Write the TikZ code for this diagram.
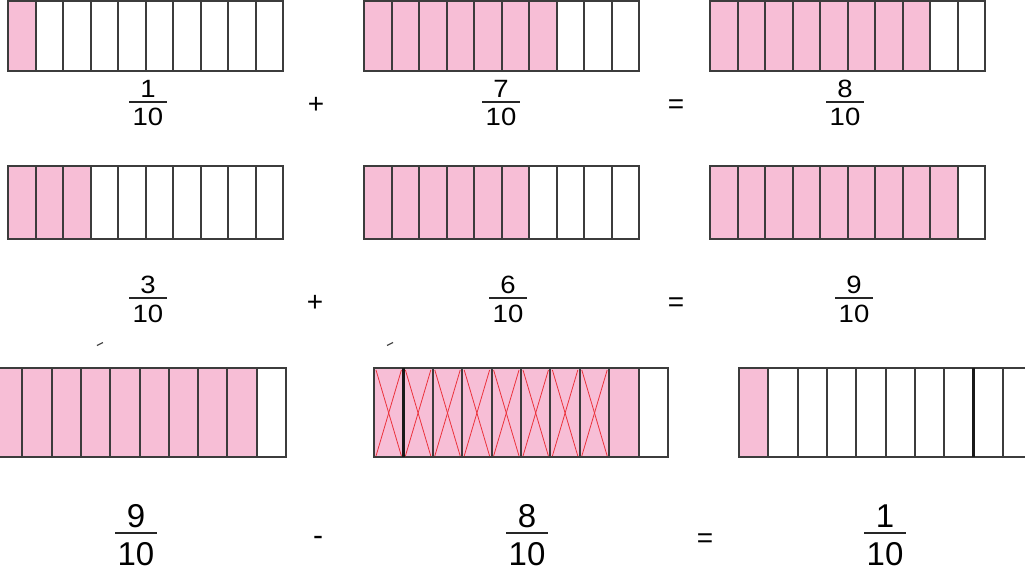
\documentclass[tikz,border=0pt]{standalone}
\usepackage{fontspec}
\setmainfont{Liberation Sans}
\newfontfamily\widesans[FakeStretch=1.1]{Liberation Sans}
\definecolor{barpink}{RGB}{247,190,214}
\definecolor{edge}{RGB}{60,60,60}
\definecolor{crossred}{RGB}{235,50,60}
\tikzset{
  cell/.style={draw=edge, line width=2pt},
  opsym/.style={anchor=base, font=\fontsize{28}{30}\selectfont},
  crossline/.style={draw=crossred, line width=0.8pt},
}
% #1 left x, #2 top y, #3 cell width, #4 height, #5 pink count
\newcommand\tenbar[5]{%
  \foreach \i in {1,...,10}{%
    \pgfmathsetmacro\xa{#1+(\i-1)*#3}%
    \pgfmathsetmacro\xb{#1+\i*#3}%
    \ifnum\i>#5\relax\def\fc{white}\else\def\fc{barpink}\fi
    \path[fill=\fc] (\xa,#2) rectangle (\xb,#2+#4);
  }
  \foreach \i in {1,...,9}{%
    \draw[cell] (#1+\i*#3,#2) -- (#1+\i*#3,#2+#4);
  }
  \draw[cell] (#1,#2) rectangle (#1+10*#3,#2+#4);
}
% #1 name, #2 x, #3 bar y, #4 numerator, #5 half width, #6 bar thickness, #7 font, #8 num offset, #9 den offset
\newcommand\frc[9]{%
  \node[anchor=base, font=#7, inner sep=0pt] (#1n) at (#2,#3-#8) {#4};
  \draw[line width=#6, color=black!85] (#2-#5,#3) -- (#2+#5,#3);
  \node[anchor=base, font=#7, inner sep=0pt] (#1d) at (#2,#3+#9) {10};
}
\begin{document}
\begin{tikzpicture}[x=1pt,y=-1pt]
\useasboundingbox (0,0) rectangle (1025,573);
\fill[white] (0,0) rectangle (1025,573);

% ---------- row 1 ----------
\tenbar{8}{1}{27.5}{70}{1}
\tenbar{364}{1}{27.5}{70}{7}
\tenbar{710}{1}{27.5}{70}{8}
\frc{a1}{148}{102}{1}{19}{1.3pt}{\widesans\fontsize{25}{27}\selectfont}{5}{23}
\frc{a2}{501}{102}{7}{19}{1.3pt}{\widesans\fontsize{25}{27}\selectfont}{5}{23}
\frc{a3}{845}{102}{8}{19}{1.3pt}{\widesans\fontsize{25}{27}\selectfont}{5}{23}
\node[opsym] (p1) at (316,113.5) {+};
\node[opsym] (e1) at (676,113.5) {=};

% ---------- row 2 ----------
\tenbar{8}{166}{27.5}{73}{3}
\tenbar{364}{166}{27.5}{73}{6}
\tenbar{710}{166}{27.5}{73}{9}
\frc{b1}{148}{298}{3}{19}{1.3pt}{\widesans\fontsize{25}{27}\selectfont}{5}{24}
\frc{b2}{508}{298}{6}{19}{1.3pt}{\widesans\fontsize{25}{27}\selectfont}{5}{24}
\frc{b3}{854}{298}{9}{19}{1.3pt}{\widesans\fontsize{25}{27}\selectfont}{5}{24}
\node[opsym] (p2) at (315,311.5) {+};
\node[opsym] (e2) at (676,311.5) {=};

% stray marks
\draw[line width=1.3pt, color=black!70] (97,345.5) -- (103,342.5);
\draw[line width=1.3pt, color=black!70] (387,345.5) -- (393,342.5);

% ---------- row 3 ----------
\tenbar{-7}{368}{29.3}{89}{9}
\tenbar{374}{368}{29.4}{89}{9}
\foreach \i in {1,...,8}{%
  \pgfmathsetmacro\xa{374+(\i-1)*29.4+2}%
  \pgfmathsetmacro\xb{374+\i*29.4-2}%
  \draw[crossline] (\xa,370) -- (\xb,456);
  \draw[crossline] (\xb,370) -- (\xa,456);
}
\draw[draw=black!90, line width=2.4pt] (374+29.4,368) -- (374+29.4,457);
\tenbar{739}{368}{29.3}{89}{1}
\draw[draw=black!90, line width=2.4pt] (739+8*29.3,368) -- (739+8*29.3,457);
\frc{c1}{136}{533}{9}{21}{2.6pt}{\fontsize{33}{35}\selectfont}{6}{32}
\frc{c2}{527}{533}{8}{21}{2.6pt}{\fontsize{33}{35}\selectfont}{6}{32}
\frc{c3}{885}{533}{1}{21}{2.6pt}{\fontsize{33}{35}\selectfont}{6}{32}
\node[anchor=base, font=\fontsize{30}{32}\selectfont] (m3) at (318,545) {-};
\node[opsym] (e3) at (705,547.5) {=};
\end{tikzpicture}
\end{document}
